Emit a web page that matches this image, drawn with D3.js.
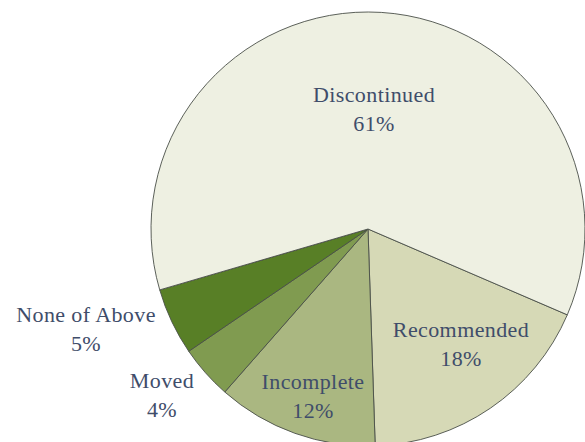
<!DOCTYPE html>
<html>
<head>
<meta charset="utf-8">
<script src="https://cdn.jsdelivr.net/npm/d3@7"></script>
<style>
  html, body { margin: 0; padding: 0; background: #ffffff; }
  svg { display: block; }
  text { font-family: "Liberation Serif", "DejaVu Serif", serif; fill: #3f4d6a; }
</style>
</head>
<body>
<script>
// Share of outcomes, clockwise from the lower right
const categories = ["Recommended", "Incomplete", "Moved", "None of Above", "Discontinued"];
const values = [18, 12, 4, 5, 61];
const fills = ["#d6d9b6", "#aab781", "#809b50", "#587f26", "#eef0e2"];
const valueLabels = ["18%", "12%", "4%", "5%", "61%"];

const width = 585, height = 442;
const cx = 368, cy = 229, radius = 217;

const svg = d3.select("body").append("svg")
  .attr("width", width).attr("height", height);

const data = categories.map((c, i) => ({ name: c, value: values[i], fill: fills[i], label: valueLabels[i] }));

const startDeg = 113.3;
const pie = d3.pie()
  .value(d => d.value)
  .sort(null)
  .startAngle(startDeg * Math.PI / 180)
  .endAngle((startDeg + 360) * Math.PI / 180);

const arc = d3.arc().innerRadius(0).outerRadius(radius);

const g = svg.append("g").attr("transform", `translate(${cx},${cy})`);

const arcs = pie(data);

g.selectAll("path")
  .data(arcs)
  .join("path")
  .attr("d", arc)
  .attr("fill", d => d.data.fill)
  .attr("stroke", "#4a4f48")
  .attr("stroke-width", 0.9)
  .attr("stroke-linejoin", "round");

// Label anchor points (absolute), name line baseline; value sits one line below
const labelPos = {
  "Recommended": [461, 337],
  "Incomplete": [313, 389],
  "Moved": [162, 388],
  "None of Above": [86, 322],
  "Discontinued": [374, 102]
};
const lineGap = 29;

const labels = svg.append("g")
  .attr("text-anchor", "middle")
  .attr("font-size", 22)
  .attr("letter-spacing", 0.4);
arcs.forEach(a => {
  const [x, y] = labelPos[a.data.name];
  labels.append("text").attr("x", x).attr("y", y).text(a.data.name);
  labels.append("text").attr("x", x).attr("y", y + lineGap).text(a.data.label);
});
</script>
</body>
</html>
